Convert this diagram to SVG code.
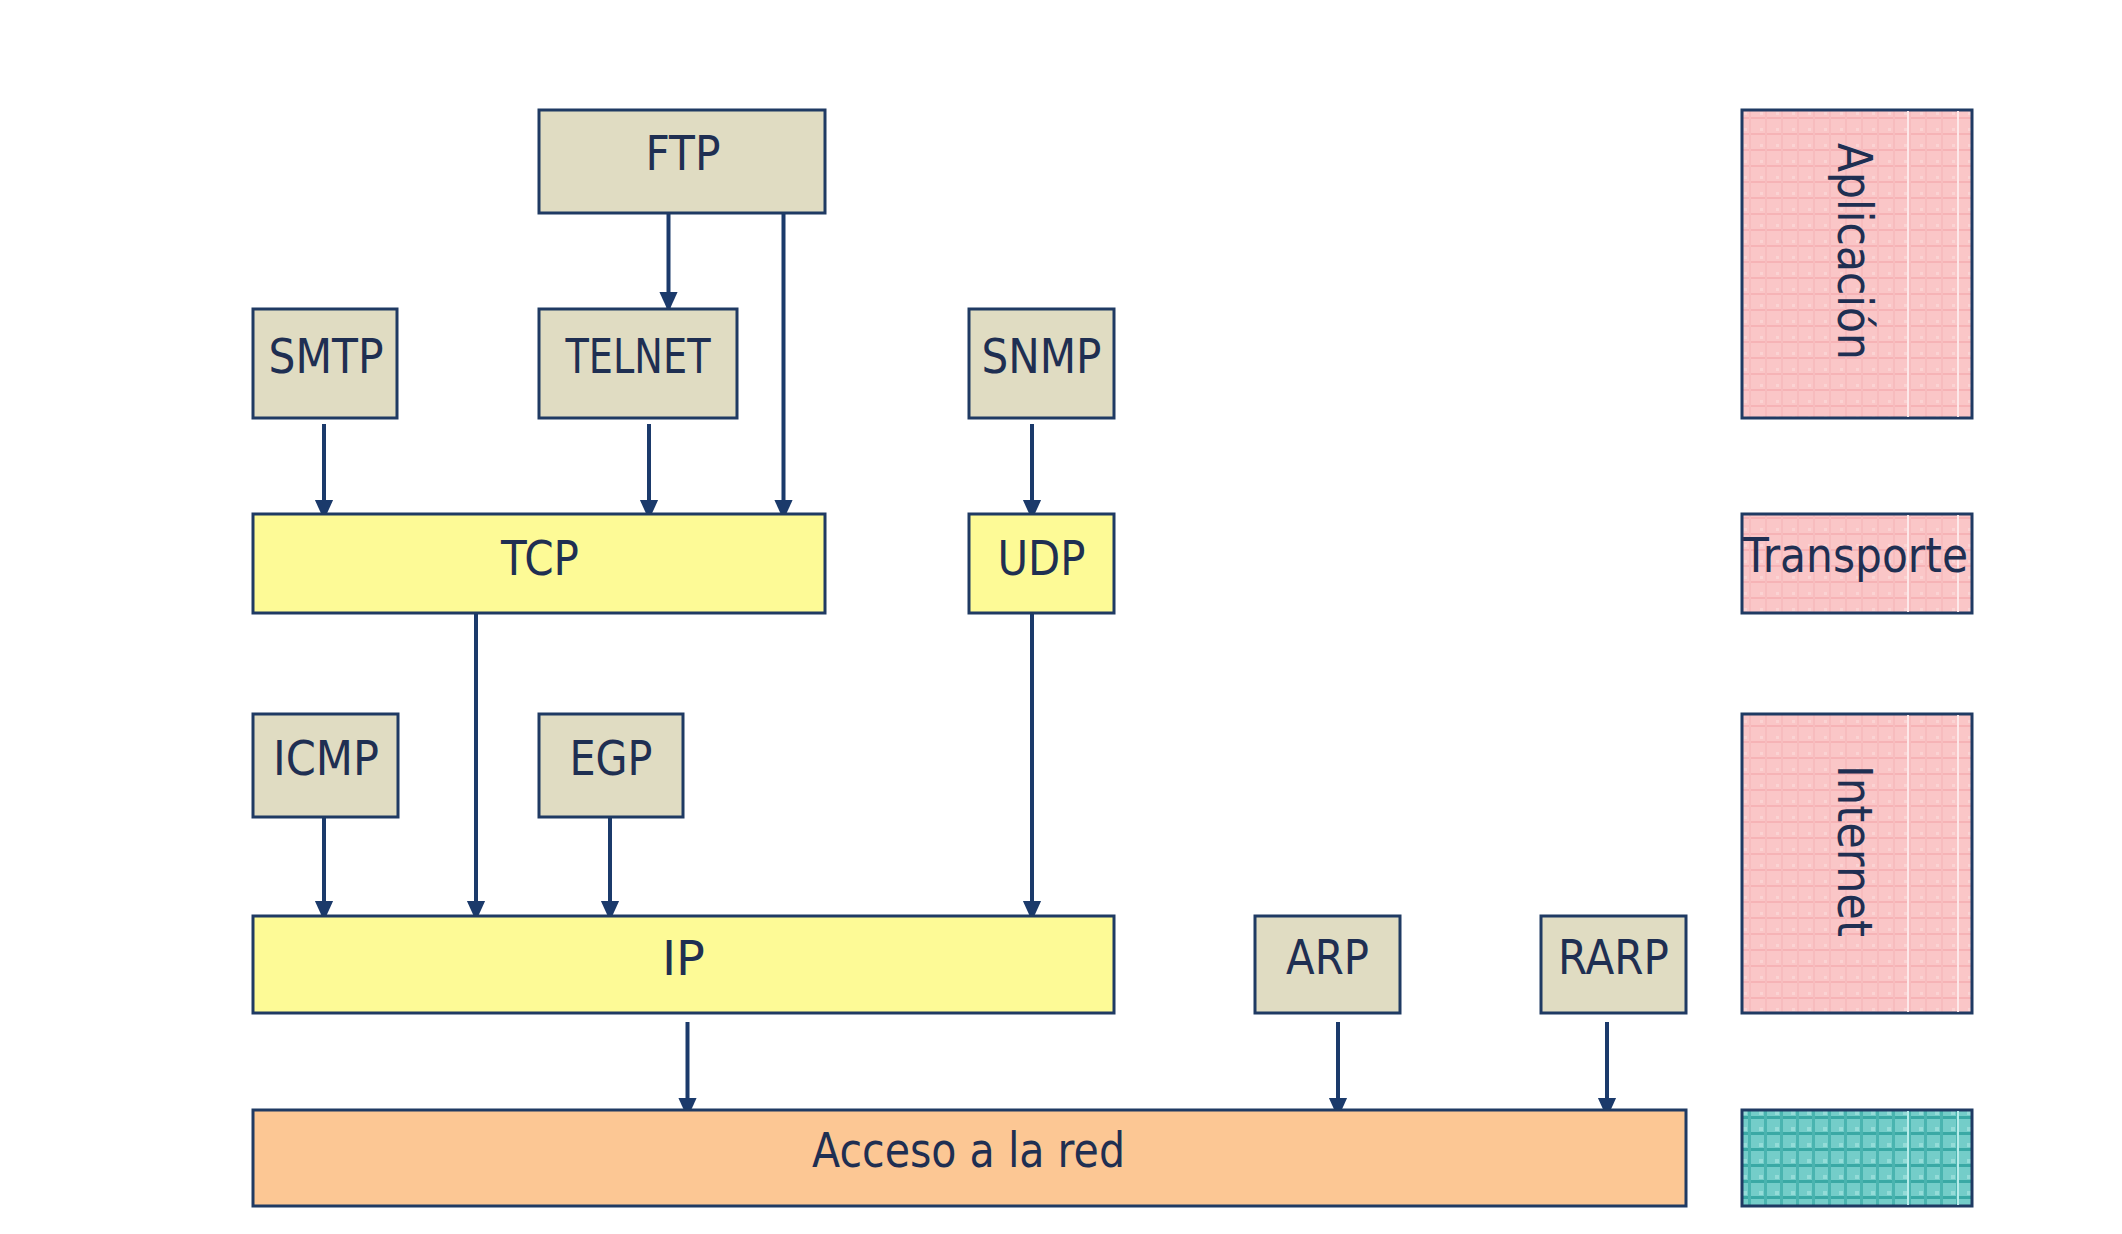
<svg xmlns="http://www.w3.org/2000/svg" width="2122" height="1234" viewBox="0 0 2122 1234">
<style>
.box{stroke:#1f3a63;stroke-width:3}
.beige{fill:#e0dcc2}
.yellow{fill:#fdfa96}
.orange{fill:#fcc794}
.lbl{font-family:"DejaVu Sans","Liberation Sans",sans-serif;font-size:48px;fill:#1f2f52;text-anchor:middle}
.con{stroke:#1b3a6b;stroke-width:4;fill:none;marker-end:url(#ah)}
</style>
<defs>
<marker id="ah" markerUnits="userSpaceOnUse" markerWidth="20" markerHeight="22" viewBox="0 0 22 20" refX="22" refY="10" orient="auto">
<path d="M0,0 L22,10 L0,20 Z" fill="#1b3a6b"/>
</marker>
<pattern id="pink" patternUnits="userSpaceOnUse" width="16" height="16" x="1742" y="110">
<rect width="16" height="16" fill="#fac6c7"/>
<rect x="0" y="7" width="16" height="2" fill="#f6b3b6"/>
<rect x="7" y="0" width="2" height="16" fill="#f7bcbe"/>
<rect x="2" y="2" width="3" height="3" fill="#fbd3d3"/>
</pattern>
<pattern id="teal" patternUnits="userSpaceOnUse" width="16" height="16" x="1742" y="1110">
<rect width="16" height="16" fill="#74cdc9"/>
<rect x="0" y="6" width="16" height="3" fill="#3aa9a5"/>
<rect x="6" y="0" width="3" height="16" fill="#4ab4b0"/>
<rect x="1" y="1" width="4" height="4" fill="#94dcd8"/>
</pattern>
</defs>
<rect width="2122" height="1234" fill="#ffffff"/>

<g id="connectors">
<line class="con" x1="668.5" y1="213" x2="668.5" y2="312"/>
<line class="con" x1="783.5" y1="213" x2="783.5" y2="520"/>
<line class="con" x1="324" y1="424" x2="324" y2="520"/>
<line class="con" x1="649" y1="424" x2="649" y2="520"/>
<line class="con" x1="1032" y1="424" x2="1032" y2="520"/>
<line class="con" x1="476" y1="613" x2="476" y2="921"/>
<line class="con" x1="1032" y1="613" x2="1032" y2="921"/>
<line class="con" x1="324" y1="817" x2="324" y2="921"/>
<line class="con" x1="610" y1="817" x2="610" y2="921"/>
<line class="con" x1="687.5" y1="1022" x2="687.5" y2="1118"/>
<line class="con" x1="1338" y1="1022" x2="1338" y2="1118"/>
<line class="con" x1="1607" y1="1022" x2="1607" y2="1118"/>
</g>

<g id="ftp"><rect class="box beige" x="539" y="110" width="286" height="103"/><text class="lbl" x="683" y="170" textLength="75" lengthAdjust="spacingAndGlyphs">FTP</text></g>
<g id="smtp"><rect class="box beige" x="253" y="309" width="144" height="109"/><text class="lbl" x="326" y="373" textLength="115" lengthAdjust="spacingAndGlyphs">SMTP</text></g>
<g id="telnet"><rect class="box beige" x="539" y="309" width="198" height="109"/><text class="lbl" x="638" y="373" textLength="145" lengthAdjust="spacingAndGlyphs">TELNET</text></g>
<g id="snmp"><rect class="box beige" x="969" y="309" width="145" height="109"/><text class="lbl" x="1041.5" y="373" textLength="120" lengthAdjust="spacingAndGlyphs">SNMP</text></g>
<g id="tcp"><rect class="box yellow" x="253" y="514" width="572" height="99"/><text class="lbl" x="540" y="575" textLength="78" lengthAdjust="spacingAndGlyphs">TCP</text></g>
<g id="udp"><rect class="box yellow" x="969" y="514" width="145" height="99"/><text class="lbl" x="1041.5" y="575" textLength="88" lengthAdjust="spacingAndGlyphs">UDP</text></g>
<g id="icmp"><rect class="box beige" x="253" y="714" width="145" height="103"/><text class="lbl" x="326" y="775" textLength="106" lengthAdjust="spacingAndGlyphs">ICMP</text></g>
<g id="egp"><rect class="box beige" x="539" y="714" width="144" height="103"/><text class="lbl" x="611" y="775" textLength="83" lengthAdjust="spacingAndGlyphs">EGP</text></g>
<g id="ip"><rect class="box yellow" x="253" y="916" width="861" height="97"/><text class="lbl" x="683.5" y="975" textLength="43" lengthAdjust="spacingAndGlyphs">IP</text></g>
<g id="arp"><rect class="box beige" x="1255" y="916" width="145" height="97"/><text class="lbl" x="1327.5" y="974" textLength="83" lengthAdjust="spacingAndGlyphs">ARP</text></g>
<g id="rarp"><rect class="box beige" x="1541" y="916" width="145" height="97"/><text class="lbl" x="1613.5" y="974" textLength="111" lengthAdjust="spacingAndGlyphs">RARP</text></g>
<g id="acceso"><rect class="box orange" x="253" y="1110" width="1433" height="96"/><text class="lbl" x="968.5" y="1167" textLength="313" lengthAdjust="spacingAndGlyphs">Acceso a la red</text></g>

<g id="layer-aplicacion"><rect class="box" fill="url(#pink)" x="1742" y="110" width="230" height="308"/><rect x="1907" y="111" width="2" height="306" fill="#fde9ea"/><rect x="1957" y="111" width="2" height="306" fill="#fde9ea"/><text class="lbl" transform="translate(1838,251.5) rotate(90)" x="0" y="0" textLength="217" lengthAdjust="spacingAndGlyphs">Aplicación</text></g>
<g id="layer-transporte"><rect class="box" fill="url(#pink)" x="1742" y="514" width="230" height="99"/><rect x="1907" y="515" width="2" height="97" fill="#fde9ea"/><rect x="1957" y="515" width="2" height="97" fill="#fde9ea"/><text class="lbl" x="1855.5" y="572" textLength="225" lengthAdjust="spacingAndGlyphs">Transporte</text></g>
<g id="layer-internet"><rect class="box" fill="url(#pink)" x="1742" y="714" width="230" height="299"/><rect x="1907" y="715" width="2" height="297" fill="#fde9ea"/><rect x="1957" y="715" width="2" height="297" fill="#fde9ea"/><text class="lbl" transform="translate(1838,851) rotate(90)" x="0" y="0" textLength="172" lengthAdjust="spacingAndGlyphs">Internet</text></g>
<g id="layer-acceso"><rect class="box" fill="url(#teal)" x="1742" y="1110" width="230" height="96"/><rect x="1907" y="1111" width="2" height="94" fill="#b8ecea"/><rect x="1957" y="1111" width="2" height="94" fill="#b8ecea"/></g>
</svg>
